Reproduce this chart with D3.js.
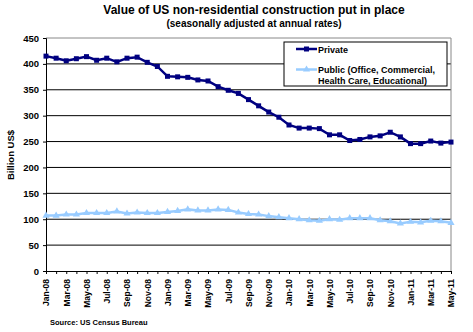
<!DOCTYPE html>
<html>
<head>
<meta charset="utf-8">
<script src="https://cdn.jsdelivr.net/npm/d3@7"></script>
<style>
  body { margin: 0; background: #fff; }
  text { font-family: "Liberation Sans", Arial, sans-serif; font-weight: bold; }
</style>
</head>
<body>
<svg id="chart" width="473" height="332"></svg>
<script>
// monthly, Jan-08 .. May-11
const months = ["Jan","Feb","Mar","Apr","May","Jun","Jul","Aug","Sep","Oct","Nov","Dec"];
const years = ["08", "09", "10", "11"];
const privateVals = [415, 411, 406, 410, 414, 407, 411, 404, 411, 413, 403, 395,
                     376, 375, 374, 369, 367, 356, 349, 343, 331, 319, 307, 297,
                     282, 276, 276, 275, 263, 263, 252, 254, 259, 261, 268, 259,
                     246, 246, 251, 247, 249];
const publicVals = [107, 107, 109, 109, 112, 112, 112, 115, 111, 113, 112, 112,
                    114, 116, 119, 117, 117, 119, 118, 113, 110, 109, 106, 104,
                    102, 100, 98, 97, 100, 99, 102, 102, 102, 98, 96, 92,
                    95, 94, 97, 96, 93];
const yTicks = [0, 50, 100, 150, 200, 250, 300, 350, 400, 450];

const labels = [];
years.forEach(y => months.forEach(m => labels.push(m + "-" + y)));
labels.length = privateVals.length;

const svg = d3.select("#chart");
const m = {left: 46, right: 451, top: 38, bottom: 271};

const x = d3.scalePoint().domain(labels).range([m.left, m.right]);
const y = d3.scaleLinear().domain([0, 450]).range([m.bottom, m.top]);

// title
svg.append("text").attr("x", 254).attr("y", 14).attr("text-anchor", "middle")
  .style("font-size", "12px").text("Value of US non-residential construction put in place");
svg.append("text").attr("x", 254).attr("y", 27).attr("text-anchor", "middle")
  .style("font-size", "10px").text("(seasonally adjusted at annual rates)");

// grid
svg.append("g").selectAll("line").data(yTicks.filter(d => d > 0 && d < 450)).join("line")
  .attr("x1", m.left).attr("x2", m.right)
  .attr("y1", d => y(d)).attr("y2", d => y(d))
  .attr("stroke", "#000").attr("stroke-width", 1);

// plot border (top / right)
svg.append("path")
  .attr("d", `M${m.left},${y(450)}H${m.right}V${m.bottom}`)
  .attr("fill", "none").attr("stroke", "#888").attr("stroke-width", 1);

// y axis
const yAxis = svg.append("g").attr("transform", `translate(${m.left},0)`)
  .call(d3.axisLeft(y).tickValues(yTicks).tickSize(3).tickPadding(4));
yAxis.select(".domain").attr("stroke", "#000");
yAxis.selectAll("text").style("font-size", "9.5px").attr("fill", "#000");

// x axis
const xAxis = svg.append("g").attr("transform", `translate(0,${m.bottom})`)
  .call(d3.axisBottom(x).tickSize(3)
    .tickFormat((d, i) => i % 2 === 0 ? d : ""));
xAxis.select(".domain").attr("stroke", "#000");
xAxis.selectAll("text")
  .style("font-size", "8.5px").attr("fill", "#000")
  .attr("transform", "rotate(-90)")
  .attr("text-anchor", "end")
  .attr("x", -8).attr("y", 0).attr("dy", "0.35em");

svg.append("text").attr("transform", "translate(14,155) rotate(-90)")
  .attr("text-anchor", "middle").style("font-size", "9.5px").text("Billion US$");

svg.append("text").attr("x", 50).attr("y", 325)
  .style("font-size", "7.5px").text("Source: US Census Bureau");

const line = d3.line().x((d, i) => x(labels[i])).y(d => y(d));

// public series
svg.append("path").datum(publicVals).attr("d", line)
  .attr("fill", "none").attr("stroke", "#99ccff").attr("stroke-width", 2.5);
const tri = d3.symbol().type(d3.symbolTriangle).size(22);
svg.append("g").selectAll("path").data(publicVals).join("path")
  .attr("transform", (d, i) => `translate(${x(labels[i])},${y(d)})`)
  .attr("d", tri).attr("fill", "#99ccff");

// private series
svg.append("path").datum(privateVals).attr("d", line)
  .attr("fill", "none").attr("stroke", "#000080").attr("stroke-width", 2.5);
svg.append("g").selectAll("rect").data(privateVals).join("rect")
  .attr("x", (d, i) => x(labels[i]) - 2.5).attr("y", d => y(d) - 2.5)
  .attr("width", 5).attr("height", 5).attr("fill", "#000080");

// legend
const lg = svg.append("g");
lg.append("rect").attr("x", 284).attr("y", 42).attr("width", 163).attr("height", 44)
  .attr("fill", "#fff").attr("stroke", "#000").attr("stroke-width", 1);
lg.append("line").attr("x1", 296).attr("x2", 317).attr("y1", 49).attr("y2", 49)
  .attr("stroke", "#000080").attr("stroke-width", 2.5);
lg.append("rect").attr("x", 304).attr("y", 46.5).attr("width", 5).attr("height", 5).attr("fill", "#000080");
lg.append("text").attr("x", 318).attr("y", 52.5).style("font-size", "9px").text("Private");
lg.append("line").attr("x1", 296).attr("x2", 317).attr("y1", 69.5).attr("y2", 69.5)
  .attr("stroke", "#99ccff").attr("stroke-width", 2.5);
lg.append("path").attr("transform", "translate(306.5,69.5)").attr("d", tri).attr("fill", "#99ccff");
lg.append("text").attr("x", 318).attr("y", 73).style("font-size", "9px").text("Public (Office, Commercial,");
lg.append("text").attr("x", 318).attr("y", 84).style("font-size", "9px").text("Health Care, Educational)");
</script>
</body>
</html>
